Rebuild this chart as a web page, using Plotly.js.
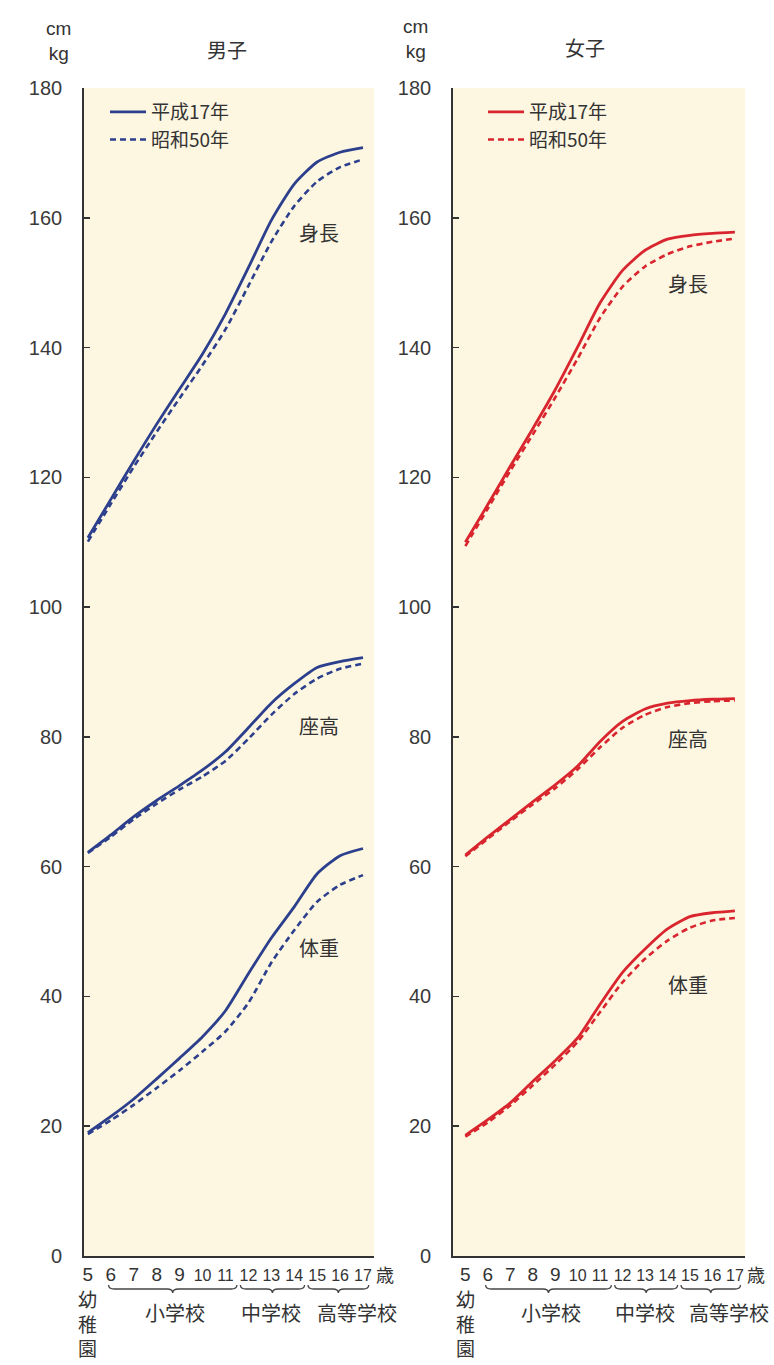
<!DOCTYPE html>
<html>
<head>
<meta charset="utf-8">
<script src="https://cdn.plot.ly/plotly-3.0.1.min.js"></script>
<style>html,body{margin:0;padding:0;background:#fff;}#chart{width:774px;height:1365px;}</style>
</head>
<body>
<div id="chart"></div>
<script>
// ---- data ----
const ages = [5,6,7,8,9,10,11,12,13,14,15,16,17];
const ageLabels = ['5','6','7','8','9','10','11','12','13','14','15','16','17'];
const seriesNames = ['平成17年','昭和50年'];
const measureNames = ['身長','座高','体重'];

// 男子 (boys)
const boyHeightH17 = [110.7,116.6,122.5,128.2,133.6,139.0,145.2,152.3,159.6,165.2,168.6,170.1,170.8];
const boyHeightS50 = [110.1,115.9,121.6,127.0,132.2,137.3,142.8,149.5,156.3,161.8,165.6,167.8,169.0];
const boySitH17    = [62.2,64.9,67.7,70.2,72.5,74.9,77.7,81.4,85.2,88.2,90.7,91.6,92.2];
const boySitS50    = [62.1,64.6,67.3,69.7,71.9,73.9,76.3,79.7,83.4,86.6,89.0,90.5,91.3];
const boyWeightH17 = [19.0,21.5,24.2,27.3,30.5,33.8,37.8,43.5,49.0,53.8,58.9,61.7,62.8];
const boyWeightS50 = [18.8,20.9,23.3,25.9,28.6,31.5,34.6,39.0,45.2,50.2,54.6,57.2,58.7];

// 女子 (girls)
const girlHeightH17 = [110.0,115.8,121.7,127.5,133.5,140.1,146.9,151.9,155.0,156.7,157.3,157.6,157.8];
const girlHeightS50 = [109.4,115.2,121.0,126.6,132.3,138.3,144.6,149.4,152.5,154.4,155.6,156.3,156.8];
const girlSitH17    = [61.8,64.6,67.3,70.0,72.6,75.5,79.3,82.4,84.3,85.2,85.6,85.8,85.9];
const girlSitS50    = [61.6,64.3,67.0,69.6,72.1,75.0,78.4,81.4,83.4,84.6,85.2,85.5,85.6];
const girlWeightH17 = [18.6,21.0,23.6,26.9,30.1,33.6,38.8,43.7,47.3,50.4,52.3,52.9,53.2];
const girlWeightS50 = [18.4,20.6,23.2,26.3,29.5,33.0,37.6,42.2,45.8,48.6,50.6,51.7,52.1];

const yTicks = [0,20,40,60,80,100,120,140,160,180];

// ---- styling ----
const BLUE = '#2c3f8c';
const RED = '#d9252e';
const FONT = 'Liberation Sans, Arial, Noto Sans CJK JP, sans-serif';
const JFONT = 'Noto Sans CJK JP, sans-serif';
const DASH = '6px,4px';

const traces = [];
function addSet(sets, color, xa, ya, legendName) {
  sets.forEach((s, i) => {
    traces.push({
      x: ages, y: s[0], type: 'scatter', mode: 'lines',
      name: seriesNames[0], xaxis: xa, yaxis: ya,
      line: {color: color, width: 2.8, shape: 'spline', smoothing: 0.6},
      showlegend: i === 0, legend: legendName, hoverinfo: 'skip'
    });
  });
  sets.forEach((s, i) => {
    traces.push({
      x: ages, y: s[1], type: 'scatter', mode: 'lines',
      name: seriesNames[1], xaxis: xa, yaxis: ya,
      line: {color: color, width: 2.6, dash: DASH, shape: 'spline', smoothing: 0.6},
      showlegend: i === 0, legend: legendName, hoverinfo: 'skip'
    });
  });
}
addSet([[boyHeightH17, boyHeightS50],[boySitH17, boySitS50],[boyWeightH17, boyWeightS50]], BLUE, 'x', 'y', 'legend');
addSet([[girlHeightH17, girlHeightS50],[girlSitH17, girlSitS50],[girlWeightH17, girlWeightS50]], RED, 'x2', 'y2', 'legend2');

const yDom = [109/1365, 1277/1365];
function yAxis(anchor) {
  return {
    domain: yDom, anchor: anchor, range: [0, 180],
    tickvals: yTicks, ticks: 'inside', ticklen: 6, tickwidth: 1.6, tickcolor: '#333',
    showline: true, linecolor: '#333', linewidth: 1.8, showgrid: false, zeroline: false,
    tickfont: {family: FONT, size: 20, color: '#3a3a3a'}, ticklabelstandoff: 16,
    fixedrange: true
  };
}
const tickText = ageLabels.map(t => t.length > 1 ? '<span style="font-size:16px">' + t + '</span>' : t);
function xAxis(dom, range, anchor) {
  return {
    domain: dom, anchor: anchor, range: range,
    tickvals: ages, ticktext: tickText, ticks: '', showline: true,
    linecolor: '#333', linewidth: 1.8, showgrid: false, zeroline: false,
    tickfont: {family: FONT, size: 19, color: '#333'}, fixedrange: true,
    tickangle: 0
  };
}

const ann = [];
function A(text, x, y, xref, yref, size, extra) {
  ann.push(Object.assign({text: text, x: x, y: y, xref: xref, yref: yref, showarrow: false,
    xanchor: 'center', yanchor: 'middle',
    font: {family: JFONT, size: size, color: '#333'}}, extra || {}));
}
// headings
A('男子', 227/774, 1315/1365, 'paper', 'paper', 20);
A('女子', 585/774, 1317/1365, 'paper', 'paper', 20);
A('cm<br>kg', 58/774, 1324/1365, 'paper', 'paper', 19, {font: {family: FONT, size: 19, color: '#333'}});
A('cm<br>kg', 415/774, 1326/1365, 'paper', 'paper', 19, {font: {family: FONT, size: 19, color: '#333'}});
// unit of the age axis
A('歳', 385/774, 91/1365, 'paper', 'paper', 18);
A('歳', 756/774, 91/1365, 'paper', 'paper', 18);
// measure labels
A(measureNames[0], 15.1, 157.8, 'x', 'y', 20);
A(measureNames[1], 15.1, 81.8, 'x', 'y', 20);
A(measureNames[2], 15.1, 47.5, 'x', 'y', 20);
A(measureNames[0], 14.9, 149.9, 'x2', 'y2', 20);
A(measureNames[1], 14.9, 79.8, 'x2', 'y2', 20);
A(measureNames[2], 14.9, 41.8, 'x2', 'y2', 20);

// school labels under the x-axis
const shapes = [];
function brace(xa, xb, xref) {
  const y0 = 76/1365, h = 4/1365, d = 0.25, m = (xa + xb) / 2;
  const p = `M ${xa},${y0+h} Q ${xa},${y0} ${xa+d},${y0} L ${m-d},${y0} Q ${m},${y0} ${m},${y0-h} Q ${m},${y0} ${m+d},${y0} L ${xb-d},${y0} Q ${xb},${y0} ${xb},${y0+h}`;
  shapes.push({type: 'path', path: p, xref: xref, yref: 'paper', line: {color: '#444', width: 1.3}});
}
['x', 'x2'].forEach(xr => {
  brace(5.9, 11.5, xr); brace(11.65, 14.45, xr); brace(14.6, 17.25, xr);
  A('小学校', 8.8, 53/1365, xr, 'paper', 20);
  A('中学校', 13.0, 53/1365, xr, 'paper', 20);
  A('高等学校', 16.75, 53/1365, xr, 'paper', 20);
  A('幼<br>稚<br>園', 5.0, 42/1365, xr, 'paper', 19);
});

const layout = {
  width: 774, height: 1365,
  margin: {l: 0, r: 0, t: 0, b: 0},
  paper_bgcolor: '#ffffff', plot_bgcolor: '#fdf6e1',
  showlegend: true,
  xaxis: xAxis([84/774, 374/774], [4.83, 17.48], 'y'),
  yaxis: yAxis('x'),
  xaxis2: xAxis([453/774, 745/774], [4.45, 17.45], 'y2'),
  yaxis2: yAxis('x2'),
  legend: {x: 105/774, y: 1272/1365, xanchor: 'left', yanchor: 'top', bgcolor: 'rgba(0,0,0,0)',
    font: {family: JFONT, size: 19, color: '#333'}, tracegroupgap: 0, itemwidth: 36},
  legend2: {x: 483/774, y: 1272/1365, xanchor: 'left', yanchor: 'top', bgcolor: 'rgba(0,0,0,0)',
    font: {family: JFONT, size: 19, color: '#333'}, tracegroupgap: 0, itemwidth: 36},
  annotations: ann,
  shapes: shapes
};

Plotly.newPlot('chart', traces, layout, {displayModeBar: false, staticPlot: true});
</script>
</body>
</html>
